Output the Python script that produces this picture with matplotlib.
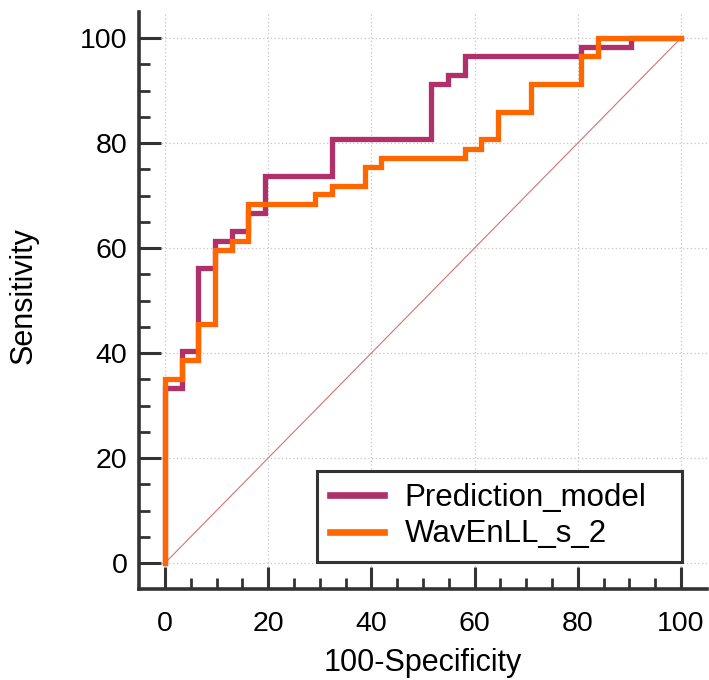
import matplotlib

matplotlib.use("Agg")

import matplotlib.pyplot as plt
from matplotlib.ticker import FixedLocator

# ROC corners (100-specificity where sensitivity jumps, sensitivity after jump)
pred_fpr = [0, 0, 3.2, 6.45, 9.7, 12.9, 16.1, 19.4, 32.3, 51.6, 54.8, 58.1, 80.6, 90.3, 100]
pred_tpr = [0, 33.3, 40.4, 56.1, 61.4, 63.2, 66.7, 73.7, 80.7, 91.2, 93.0, 96.5, 98.2, 100, 100]

wav_fpr = [0, 0, 3.2, 6.45, 9.7, 12.9, 16.1, 29.0, 32.3, 38.7, 41.9, 58.1, 61.3, 64.5, 71.0, 80.6, 83.9, 100]
wav_tpr = [0, 35.1, 38.6, 45.6, 59.6, 61.4, 68.4, 70.2, 71.9, 75.4, 77.2, 78.9, 80.7, 86.0, 91.2, 96.5, 100, 100]

labels = ["Prediction_model", "WavEnLL_s_2"]
ticks = [0, 20, 40, 60, 80, 100]
minor_ticks = [t for t in range(5, 100, 5) if t % 20 != 0]

plt.rcParams["font.family"] = ["Liberation Sans", "DejaVu Sans"]

fig = plt.figure(figsize=(7.09, 6.8), dpi=100)
ax = fig.add_axes([139.2 / 709, 1 - 589.25 / 680, 567.6 / 709, 577.5 / 680])

ax.plot([0, 100], [0, 100], color="#D47272", lw=0.8, zorder=2)
ax.plot(pred_fpr, pred_tpr, drawstyle="steps-post", color="#B0306A", lw=3.8,
        label=labels[0], zorder=3, solid_joinstyle="miter")
ax.plot(wav_fpr, wav_tpr, drawstyle="steps-post", color="#FF6600", lw=3.8,
        label=labels[1], zorder=4, solid_joinstyle="miter")

ax.set_xlim(-5, 105)
ax.set_ylim(-5, 105)
ax.set_xticks(ticks)
ax.set_yticks(ticks)
ax.xaxis.set_minor_locator(FixedLocator(minor_ticks))
ax.yaxis.set_minor_locator(FixedLocator(minor_ticks))

ax.grid(True, which="major", color="#C4C4C4", lw=0.9, linestyle=(0, (1, 2)))
ax.set_axisbelow(True)

for side in ["top", "right"]:
    ax.spines[side].set_visible(False)
for side in ["left", "bottom"]:
    ax.spines[side].set_linewidth(2.6)
    ax.spines[side].set_color("#333333")

ax.tick_params(which="major", direction="in", length=16, width=2.2, color="#333333",
               labelsize=20.5, labelcolor="black")
ax.tick_params(which="minor", direction="in", length=8, width=2.0, color="#333333")
ax.tick_params(axis="y", which="major", pad=8.5)
ax.tick_params(axis="x", which="major", pad=16)

ax.set_xlabel("100-Specificity", fontsize=22)
ax.set_ylabel("Sensitivity", fontsize=22)
ax.xaxis.set_label_coords(0.5, -0.102)
ax.yaxis.set_label_coords(-0.178, 0.508)

leg = ax.legend(loc="lower left", bbox_to_anchor=(29.5, 0.2, 70.7, 17.5),
                bbox_transform=ax.transData, mode="expand", borderaxespad=0,
                fontsize=22.5, handlelength=1.75, handletextpad=0.65,
                labelspacing=0.2, borderpad=0.4, fancybox=False, framealpha=1)
leg.get_frame().set_edgecolor("#333333")
leg.get_frame().set_linewidth(2.2)
for line in leg.get_lines():
    line.set_linewidth(4.8)

fig.savefig("out.png", dpi=100, facecolor="white")
